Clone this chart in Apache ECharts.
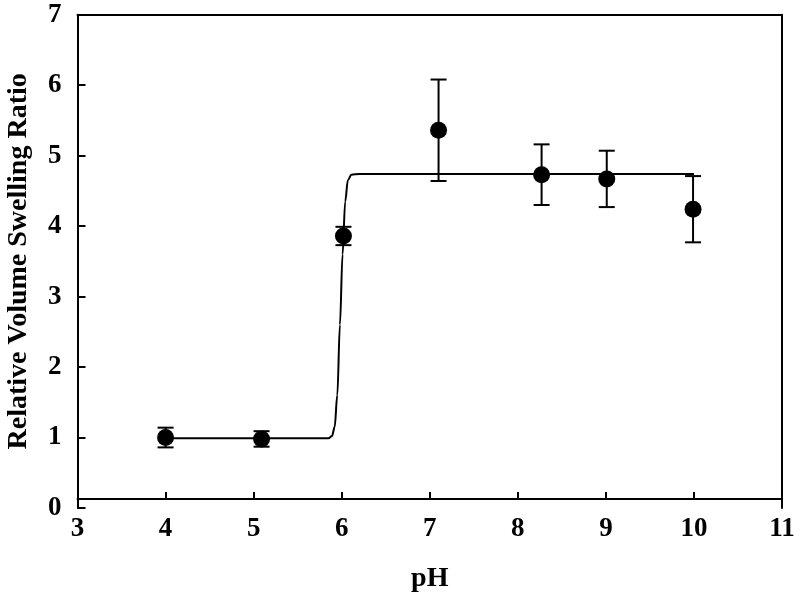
<!DOCTYPE html>
<html>
<head>
<meta charset="utf-8">
<script src="https://cdn.jsdelivr.net/npm/echarts@6/dist/echarts.min.js"></script>
<style>html,body{margin:0;padding:0;background:#fff;}#c{width:800px;height:600px;}</style>
</head>
<body>
<div id="c"></div>
<script>
// Measured data
var phValues = [4.0, 5.09, 6.02, 7.10, 8.27, 9.01, 9.99];
var swellingRatio = [1.00, 0.98, 3.86, 5.36, 4.73, 4.67, 4.24];
var errorValues = [0.14, 0.11, 0.13, 0.72, 0.43, 0.40, 0.47];
// Fitted curve
var fitPh = [4.0, 5.85, 5.89, 5.92, 5.95, 5.98, 6.01, 6.04, 6.07, 6.11, 6.2, 10.0];
var fitRatio = [0.99, 0.99, 1.02, 1.15, 1.6, 2.6, 3.6, 4.35, 4.65, 4.73, 4.74, 4.74];
var xTicks = [3, 4, 5, 6, 7, 8, 9, 10, 11];
var yTicks = [0, 1, 2, 3, 4, 5, 6, 7];

var FONT = 'Liberation Serif';
var points = phValues.map(function (x, i) { return [x, swellingRatio[i]]; });
var errData = phValues.map(function (x, i) { return [x, swellingRatio[i] - errorValues[i], swellingRatio[i] + errorValues[i]]; });
var fitData = fitPh.map(function (x, i) { return [x, fitRatio[i]]; });

var chart = echarts.init(document.getElementById('c'), null, { renderer: 'canvas' });
chart.setOption({
  animation: false,
  backgroundColor: '#fff',
  grid: { left: 77.5, right: 18, top: 14.7, bottom: 92, containLabel: false, outerBoundsMode: 'none' },
  xAxis: [{
    type: 'value', min: 3, max: 11, interval: 1, position: 'bottom', offset: -9,
    name: 'pH', nameLocation: 'middle', nameGap: 66,
    nameTextStyle: { fontFamily: FONT, fontWeight: 'bold', fontSize: 28, color: '#000' },
    axisLine: { show: true, onZero: false, lineStyle: { color: '#000', width: 2 } },
    axisTick: { show: true, inside: true, length: 7, lineStyle: { color: '#000', width: 2 } },
    axisLabel: { fontFamily: FONT, fontWeight: 'bold', fontSize: 27, color: '#000', margin: 17,
      formatter: function (v) { return xTicks.indexOf(v) >= 0 ? String(v) : ''; } },
    splitLine: { show: false }
  }, {
    type: 'value', min: 3, max: 11, position: 'top',
    axisLine: { show: true, onZero: false, lineStyle: { color: '#000', width: 2 } },
    axisTick: { show: false }, axisLabel: { show: false }, splitLine: { show: false }
  }],
  yAxis: [{
    type: 'value', min: 0, max: 7, interval: 1, position: 'left',
    name: 'Relative Volume Swelling Ratio', nameLocation: 'middle', nameGap: 45,
    nameTextStyle: { fontFamily: FONT, fontWeight: 'bold', fontSize: 28, color: '#000' },
    axisLine: { show: true, onZero: false, lineStyle: { color: '#000', width: 2 } },
    axisTick: { show: true, inside: true, length: 8, lineStyle: { color: '#000', width: 2 } },
    axisLabel: { fontFamily: FONT, fontWeight: 'bold', fontSize: 27, color: '#000', margin: 16,
      formatter: function (v) { return yTicks.indexOf(v) >= 0 ? String(v) : ''; } },
    splitLine: { show: false }
  }, {
    type: 'value', min: 0, max: 7, position: 'right',
    axisLine: { show: true, onZero: false, lineStyle: { color: '#000', width: 2 } },
    axisTick: { show: false }, axisLabel: { show: false }, splitLine: { show: false }
  }],
  series: [{
    type: 'line', data: fitData, xAxisIndex: 0, yAxisIndex: 0,
    showSymbol: false, smooth: 0.35, smoothMonotone: 'x',
    lineStyle: { color: '#000', width: 2 }, z: 2
  }, {
    type: 'custom', xAxisIndex: 0, yAxisIndex: 0, z: 3,
    data: errData,
    renderItem: function (params, api) {
      var x = api.value(0);
      var lo = api.coord([x, api.value(1)]);
      var hi = api.coord([x, api.value(2)]);
      var hw = 8;
      var st = { stroke: '#000', lineWidth: 2 };
      return { type: 'group', children: [
        { type: 'line', shape: { x1: hi[0], y1: hi[1], x2: lo[0], y2: lo[1] }, style: st },
        { type: 'line', shape: { x1: hi[0] - hw, y1: hi[1], x2: hi[0] + hw, y2: hi[1] }, style: st },
        { type: 'line', shape: { x1: lo[0] - hw, y1: lo[1], x2: lo[0] + hw, y2: lo[1] }, style: st }
      ] };
    }
  }, {
    type: 'scatter', data: points, xAxisIndex: 0, yAxisIndex: 0,
    symbol: 'circle', symbolSize: 17, itemStyle: { color: '#000', opacity: 1 }, z: 4
  }]
});
</script>
</body>
</html>
